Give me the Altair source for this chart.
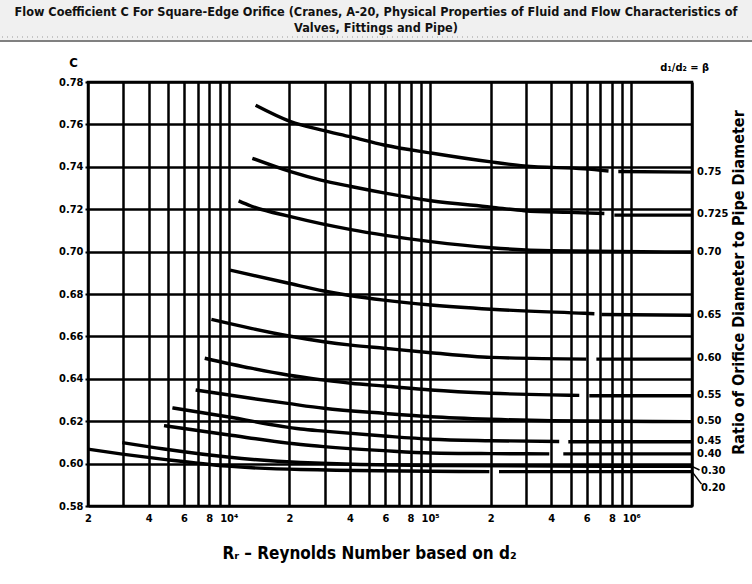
import altair as alt
import pandas as pd

# ---------------- data ----------------
grid_re = [2000, 3000, 4000, 5000, 6000, 7000, 8000, 9000,
           10000, 20000, 30000, 40000, 50000, 60000, 70000, 80000, 90000,
           100000, 200000, 300000, 400000, 500000, 600000, 700000, 800000, 900000,
           1000000, 2000000]
label_values = [2000, 4000, 6000, 8000, 10000, 20000, 40000, 60000, 80000,
                100000, 200000, 400000, 600000, 800000, 1000000]
label_texts = ['2', '4', '6', '8', '10⁴', '2', '4', '6', '8', '10⁵',
               '2', '4', '6', '8', '10⁶']
c_ticks = [0.58, 0.60, 0.62, 0.64, 0.66, 0.68, 0.70, 0.72, 0.74, 0.76, 0.78]

# each curve: Reynolds numbers, C values, index where the detached right-hand piece begins
re_075 = [13600, 20300, 28700, 40500, 59000, 101000, 201000, 294000, 584000, 770000, 861000, 2000000]
c_075 = [0.7690, 0.7613, 0.7574, 0.7541, 0.7503, 0.7465, 0.7423, 0.7404, 0.7390, 0.7380, 0.7378, 0.7375]
brk_075 = 10

re_0725 = [13100, 20300, 28700, 40500, 59000, 101000, 201000, 294000, 486000, 734000, 823000, 2000000]
c_0725 = [0.7440, 0.7377, 0.7337, 0.7307, 0.7277, 0.7240, 0.7210, 0.7193, 0.7185, 0.7180, 0.7172, 0.7172]
brk_0725 = 10

re_070 = [11200, 12900, 20300, 28700, 40500, 59000, 101000, 201000, 400000, 2000000]
c_070 = [0.7239, 0.7215, 0.7165, 0.7132, 0.7104, 0.7078, 0.7047, 0.7018, 0.7004, 0.6998]
brk_070 = None

re_065 = [10150, 19600, 29700, 40500, 59000, 101000, 201000, 584000, 655000, 710000, 2000000]
c_065 = [0.6913, 0.6852, 0.6814, 0.6792, 0.6771, 0.6748, 0.6728, 0.6709, 0.6707, 0.6703, 0.6700]
brk_065 = 9

re_060 = [8200, 12900, 19600, 29700, 40500, 59000, 101000, 201000, 597000, 670000, 2000000]
c_060 = [0.6680, 0.6638, 0.6603, 0.6575, 0.6559, 0.6544, 0.6523, 0.6501, 0.6493, 0.6493, 0.6493]
brk_060 = 9

re_055 = [7600, 12900, 19600, 29700, 40500, 59000, 101000, 201000, 400000, 551000, 618000, 2000000]
c_055 = [0.6497, 0.6450, 0.6418, 0.6394, 0.6379, 0.6366, 0.6347, 0.6332, 0.6324, 0.6322, 0.6320, 0.6320]
brk_055 = 10

re_050 = [6850, 12900, 19600, 29700, 59000, 101000, 201000, 400000, 2000000]
c_050 = [0.6347, 0.6308, 0.6284, 0.6261, 0.6237, 0.6221, 0.6209, 0.6202, 0.6198]
brk_050 = None

re_045 = [5250, 9850, 22800, 29700, 59000, 101000, 201000, 438000, 486000, 2000000]
c_045 = [0.6263, 0.6221, 0.6163, 0.6153, 0.6130, 0.6115, 0.6108, 0.6104, 0.6103, 0.6103]
brk_045 = 8

re_040 = [4770, 9850, 22800, 29700, 59000, 101000, 201000, 391000, 459000, 2000000]
c_040 = [0.6179, 0.6136, 0.6090, 0.6080, 0.6061, 0.6050, 0.6047, 0.6046, 0.6046, 0.6046]
brk_040 = 8

re_030 = [2960, 4770, 9850, 22800, 101000, 2000000]
c_030 = [0.6099, 0.6069, 0.6031, 0.6005, 0.5991, 0.5987]
brk_030 = None

re_020 = [2000, 2960, 4770, 9850, 22800, 197000, 220000, 2000000]
c_020 = [0.6068, 0.6045, 0.6020, 0.5988, 0.5972, 0.5962, 0.5962, 0.5962]
brk_020 = 6

beta_names = ['0.75', '0.725', '0.70', '0.65', '0.60', '0.55', '0.50', '0.45', '0.40', '0.30', '0.20']
curves = [(re_075, c_075, brk_075), (re_0725, c_0725, brk_0725), (re_070, c_070, brk_070),
          (re_065, c_065, brk_065), (re_060, c_060, brk_060), (re_055, c_055, brk_055),
          (re_050, c_050, brk_050), (re_045, c_045, brk_045), (re_040, c_040, brk_040),
          (re_030, c_030, brk_030), (re_020, c_020, brk_020)]

# right-hand beta labels (C level where each label sits)
label_beta_main = ['0.75', '0.725', '0.70', '0.65', '0.60', '0.55', '0.50', '0.45', '0.40']
label_c_main = [0.7375, 0.7177, 0.7000, 0.6703, 0.6498, 0.6324, 0.6200, 0.6106, 0.6047]
label_beta_low = ['0.30', '0.20']
label_c_low = [0.5963, 0.5885]
leader_re_from = [2000000, 2000000]
leader_re_to = [2180000, 2230000]
leader_c_from = [0.5987, 0.5962]
leader_c_to = [0.5970, 0.5903]

beta_note = ['d₁/d₂ = β']
beta_note_re = [1840000]
beta_note_c = [0.7866]

# ---------------- tables ----------------
rows = []
for name, (res, cs, brk) in zip(beta_names, curves):
    for i, (r, c) in enumerate(zip(res, cs)):
        seg = 1 if (brk is not None and i >= brk) else 0
        rows.append({'beta': name, 'key': f'{name}-{seg}', 'Re': r, 'C': c})
curve_df = pd.DataFrame(rows)

main_lab_df = pd.DataFrame({'beta': label_beta_main, 'C': label_c_main,
                            'Re': [2000000] * len(label_beta_main)})
low_lab_df = pd.DataFrame({'beta': label_beta_low, 'C': label_c_low,
                           'Re': [2000000] * len(label_beta_low)})
leader_df = pd.DataFrame({'Re': leader_re_from, 'Re2': leader_re_to,
                          'C': leader_c_from, 'C2': leader_c_to})
note_df = pd.DataFrame({'t': beta_note, 'Re': beta_note_re, 'C': beta_note_c})

FONT = 'DejaVu Sans Condensed, Liberation Sans Narrow, sans-serif'

label_expr = ' : '.join(f"datum.value == {v} ? '{t}'" for v, t in zip(label_values, label_texts)) + " : ''"

xscale = alt.Scale(type='log', domain=[2000, 2000000], nice=False)
yscale = alt.Scale(domain=[0.58, 0.78], nice=False, zero=False)

x_axis = alt.Axis(values=grid_re, labelExpr=label_expr, grid=True, ticks=False,
                  labelFont=FONT, labelFontSize=11, labelFontWeight='bold', labelColor='black',
                  labelPadding=6, labelFlush=False, domain=False,
                  title='Rᵣ – Reynolds Number based on d₂', titleFont=FONT, titleFontSize=17,
                  titleFontWeight='bold', titleColor='black', titleX=281, titleY=47,
                  titleBaseline='middle', titleAlign='center')
y_axis = alt.Axis(values=c_ticks, format='.2f', grid=True, tickSize=3, tickWidth=2, tickColor='black',
                  labelFont=FONT, labelFontSize=11, labelFontWeight='bold', labelColor='black',
                  labelPadding=2, domain=False,
                  title='C', titleAngle=0, titleX=-15, titleY=-20, titleFont=FONT, titleFontSize=13,
                  titleFontWeight='bold', titleColor='black', titleAlign='center', titleBaseline='middle')
right_axis = alt.Axis(orient='right', labels=False, ticks=False, domain=False, grid=False,
                      title='Ratio of Orifice Diameter to Pipe Diameter', titleAngle=270,
                      titleX=46, titleY=200, titleAlign='center', titleBaseline='middle',
                      titleFont=FONT, titleFontSize=16, titleFontWeight='bold', titleColor='black')

lines = alt.Chart(curve_df).mark_line(color='black', strokeWidth=3.4, interpolate='monotone').encode(
    x=alt.X('Re:Q', scale=xscale, axis=x_axis),
    y=alt.Y('C:Q', scale=yscale, axis=y_axis),
    detail='key:N',
    order='Re:Q',
)

main_labels = alt.Chart(main_lab_df).mark_text(align='left', baseline='middle', dx=5, font=FONT,
                                                fontSize=11, fontWeight='bold', color='black').encode(
    x=alt.X('Re:Q', scale=xscale, axis=None),
    y=alt.Y('C:Q', scale=yscale, axis=right_axis),
    text='beta:N',
)
low_labels = alt.Chart(low_lab_df).mark_text(align='left', baseline='middle', dx=9, font=FONT,
                                              fontSize=11, fontWeight='bold', color='black').encode(
    x=alt.X('Re:Q', scale=xscale, axis=None),
    y=alt.Y('C:Q', scale=yscale, axis=None),
    text='beta:N',
)
leaders = alt.Chart(leader_df).mark_rule(color='black', strokeWidth=1.5).encode(
    x=alt.X('Re:Q', scale=xscale, axis=None), x2='Re2:Q',
    y=alt.Y('C:Q', scale=yscale, axis=None), y2='C2:Q',
)
note = alt.Chart(note_df).mark_text(font=FONT, fontSize=11, fontWeight='bold', color='black',
                                    baseline='middle', align='center').encode(
    x=alt.X('Re:Q', scale=xscale, axis=None),
    y=alt.Y('C:Q', scale=yscale, axis=None),
    text='t:N',
)

band_df = pd.DataFrame({'k': [0]})
band = alt.Chart(band_df).mark_rect(color='#f0f0f0').encode(
    x=alt.value(-88), x2=alt.value(664), y=alt.value(-82), y2=alt.value(-41))
band_line = alt.Chart(band_df).mark_rule(color='#808080', strokeWidth=2).encode(
    x=alt.value(-88), x2=alt.value(664), y=alt.value(-41))
band_dots = alt.Chart(band_df).mark_rule(color='#9a9a9a', strokeWidth=1, strokeDash=[1, 4]).encode(
    x=alt.value(-86), x2=alt.value(664), y=alt.value(-45))

chart = alt.layer(band, band_dots, band_line, lines, main_labels, low_labels, leaders, note).resolve_axis(
    x='independent', y='independent'
).properties(
    width=604, height=424,
    autosize=alt.AutoSizeParams(type='none'),
    padding={'left': 88, 'top': 82, 'right': 60, 'bottom': 78},
    background='white',
    title=alt.TitleParams(
        text=['Flow Coefficient C For Square-Edge Orifice (Cranes, A-20, Physical Properties of Fluid and Flow Characteristics of',
              'Valves, Fittings and Pipe)'],
        font=FONT, fontSize=12.6, fontWeight='bold', color='#111111', anchor='middle',
        frame='group', lineHeight=16, offset=4, dx=-14, dy=39),
).configure_view(
    stroke='black', strokeWidth=2.5
).configure_axis(
    gridColor='black', gridWidth=2.5, gridOpacity=1
)

chart.save('out.html', embed_options={'renderer': 'svg', 'actions': False})
